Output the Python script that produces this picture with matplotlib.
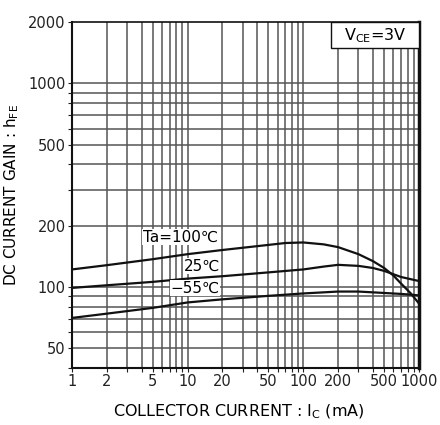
import matplotlib
matplotlib.use("Agg")
import matplotlib.pyplot as plt
from matplotlib.ticker import FixedLocator, FixedFormatter, NullFormatter
from matplotlib.patches import Rectangle

# collector current (mA) and DC current gain for each ambient temperature
ic_100 = [1, 2, 5, 10, 20, 50, 70, 100, 150, 200, 300, 400, 500, 600, 700, 850, 1000]
hfe_100 = [122, 128, 137, 145, 152, 161, 164.5, 165.5, 162, 157, 145, 134, 124, 114, 104, 93, 83]
ic_25 = [1, 2, 5, 10, 20, 50, 100, 150, 200, 300, 400, 500, 700, 1000]
hfe_25 = [99, 102, 106, 110, 113, 118, 122, 126, 128.5, 127, 124, 120, 112, 107]
ic_m55 = [1, 2, 5, 10, 20, 50, 100, 200, 300, 500, 700, 1000]
hfe_m55 = [70.5, 74, 79, 84, 87, 90.5, 93, 95, 95, 93.5, 92.5, 91]

x_ticks = [1, 2, 5, 10, 20, 50, 100, 200, 500, 1000]
x_minor = [3, 4, 6, 7, 8, 9, 30, 40, 60, 70, 80, 90, 300, 400, 600, 700, 800, 900]
y_ticks = [50, 100, 200, 500, 1000, 2000]
y_minor = [40, 60, 70, 80, 90, 300, 400, 600, 700, 800, 900]

plt.rcParams['font.family'] = ['DejaVu Sans']

fig = plt.figure(figsize=(4.4, 4.25), dpi=100)
ax = fig.add_axes([0.1636, 0.134, 0.7886, 0.814])
ax.set_xscale('log')
ax.set_yscale('log')
ax.set_xlim(1, 1000)
ax.set_ylim(40, 2000)

ax.xaxis.set_major_locator(FixedLocator(x_ticks))
ax.xaxis.set_major_formatter(FixedFormatter([str(v) for v in x_ticks]))
ax.xaxis.set_minor_locator(FixedLocator(x_minor))
ax.xaxis.set_minor_formatter(NullFormatter())
ax.yaxis.set_major_locator(FixedLocator(y_ticks))
ax.yaxis.set_major_formatter(FixedFormatter([str(v) for v in y_ticks]))
ax.yaxis.set_minor_locator(FixedLocator(y_minor))
ax.yaxis.set_minor_formatter(NullFormatter())

ax.tick_params(which='both', direction='out', length=3, width=0.8, pad=1.5,
               labelsize=10.5, colors='#222')
ax.grid(True, which='both', color='#555', lw=1.1)
ax.set_axisbelow(True)
# 2000 sits on the top spine, no grid line there
ax.get_ygridlines()[-1].set_visible(False)

for side, w in [('left', 1.5), ('bottom', 1.5), ('right', 2.5), ('top', 1.2)]:
    ax.spines[side].set_linewidth(w)
    ax.spines[side].set_color('#111')

for x, hfe in ((ic_100, hfe_100), (ic_25, hfe_25), (ic_m55, hfe_m55)):
    ax.plot(x, hfe, color='#111', lw=1.6, solid_joinstyle='round')

box = dict(facecolor='white', edgecolor='none', pad=0.5)
ax.text(8.7, 176, 'Ta=100℃', ha='center', va='center', fontsize=11, bbox=box)
ax.text(13.3, 127, '25℃', ha='center', va='center', fontsize=11, bbox=box)
ax.text(11.6, 99, '−55℃', ha='center', va='center', fontsize=11, bbox=box)

ax.add_patch(Rectangle((0.746, 0.925), 0.254, 0.075, transform=ax.transAxes,
                       facecolor='white', edgecolor='#111', lw=1.0, zorder=3))
ax.text(0.873, 0.962, r'V$_{\rm CE}$=3V', transform=ax.transAxes,
        ha='center', va='center', fontsize=11.5, zorder=4)

ax.set_xlabel(r'COLLECTOR CURRENT : I$_{\rm C}$ (mA)', fontsize=11.5)
ax.set_ylabel(r'DC CURRENT GAIN : h$_{\rm FE}$', fontsize=11)
ax.xaxis.set_label_coords(0.48, -0.1)
ax.yaxis.set_label_coords(-0.148, 0.5)

fig.savefig('out.png', dpi=100)
